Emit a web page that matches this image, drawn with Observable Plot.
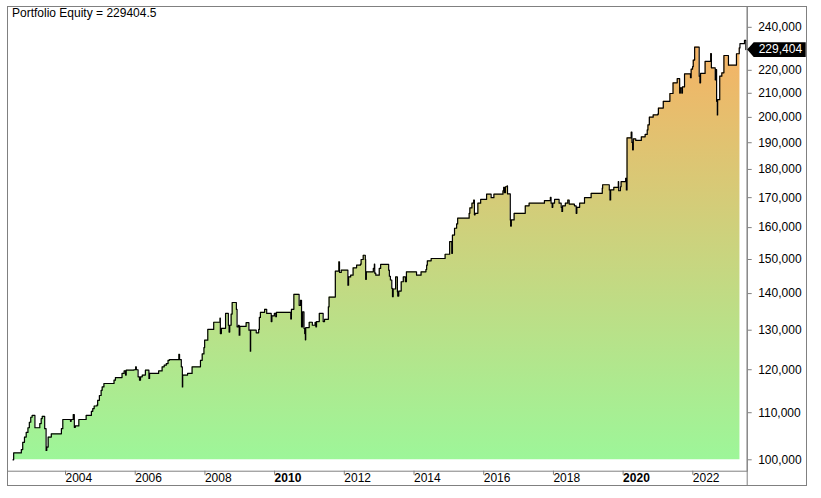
<!DOCTYPE html>
<html><head><meta charset="utf-8">
<script src="https://cdn.jsdelivr.net/npm/d3@7"></script>
<script src="https://cdn.jsdelivr.net/npm/@observablehq/plot@0.6"></script>
<style>
body{margin:0;background:#fff;font-family:"Liberation Sans",Arial,sans-serif;}
#wrap{position:relative;width:821px;height:498px;}
#chart{position:absolute;left:0;top:0;}
#border{position:absolute;left:7px;top:6px;width:800px;height:480px;border:1px solid #808080;box-sizing:border-box;pointer-events:none;}
#title{position:absolute;left:12px;top:6px;font-size:12px;line-height:14px;color:#000;white-space:nowrap;}
</style></head><body>
<div id="wrap"><div id="chart"></div><div id="border"></div><div id="title">Portfolio Equity = 229404.5</div></div>
<script>
const years = [
2002.55,2002.57,2002.79,2002.83,2002.88,2002.93,2002.98,2003.02,2003.06,2003.10,
2003.18,2003.32,2003.36,2003.39,2003.46,2003.50,2003.52,2003.56,2003.65,2003.94,
2003.98,2004.20,2004.22,2004.28,2004.31,2004.34,2004.44,2004.65,2004.80,2004.84,
2004.88,2004.96,2004.98,2005.03,2005.08,2005.11,2005.16,2005.45,2005.49,2005.68,
2005.74,2005.78,2005.80,2006.02,2006.07,2006.09,2006.14,2006.18,2006.21,2006.26,
2006.35,2006.45,2006.47,2006.73,2006.83,2006.89,2006.95,2007.00,2007.04,2007.31,
2007.33,2007.38,2007.41,2007.42,2007.56,2007.69,2007.93,2007.98,2008.03,2008.05,
2008.14,2008.31,2008.49,2008.50,2008.53,2008.65,2008.73,2008.75,2008.77,2008.81,
2008.84,2008.96,2008.98,2009.02,2009.04,2009.06,2009.24,2009.32,2009.36,2009.37,
2009.53,2009.60,2009.62,2009.65,2009.77,2009.83,2009.96,2009.98,2010.05,2010.09,
2010.11,2010.52,2010.54,2010.61,2010.76,2010.80,2010.83,2010.86,2010.90,2010.92,
2010.94,2010.95,2011.05,2011.14,2011.22,2011.24,2011.26,2011.34,2011.45,2011.49,
2011.60,2011.62,2011.80,2011.90,2011.92,2011.97,2012.16,2012.18,2012.24,2012.31,
2012.41,2012.52,2012.54,2012.60,2012.66,2012.67,2012.69,2012.89,2012.92,2012.93,
2012.96,2013.06,2013.10,2013.33,2013.35,2013.38,2013.42,2013.44,2013.46,2013.53,
2013.58,2013.59,2013.62,2013.69,2013.75,2013.81,2013.84,2014.13,2014.26,2014.40,
2014.42,2014.44,2014.55,2014.95,2015.08,2015.14,2015.16,2015.22,2015.28,2015.31,
2015.64,2015.66,2015.72,2015.77,2015.79,2015.81,2015.89,2015.97,2016.14,2016.27,
2016.35,2016.61,2016.63,2016.65,2016.68,2016.73,2016.74,2016.82,2016.83,2016.85,
2016.93,2017.25,2017.36,2017.80,2017.97,2017.99,2018.02,2018.04,2018.09,2018.22,
2018.28,2018.30,2018.32,2018.40,2018.47,2018.51,2018.66,2018.71,2018.73,2018.81,
2018.95,2019.14,2019.46,2019.47,2019.66,2019.68,2019.70,2019.79,2019.92,2019.93,
2019.98,2020.00,2020.13,2020.15,2020.17,2020.29,2020.31,2020.33,2020.35,2020.42,
2020.58,2020.69,2020.75,2020.77,2020.81,2020.92,2021.05,2021.07,2021.21,2021.40,
2021.49,2021.61,2021.68,2021.70,2021.74,2021.76,2021.82,2021.99,2022.01,2022.05,
2022.07,2022.11,2022.24,2022.26,2022.28,2022.41,2022.57,2022.59,2022.70,2022.72,
2022.74,2022.76,2022.77,2022.83,2022.89,2022.95,2023.08,2023.31,2023.39,2023.41,
2023.54,2023.58
];
const equity = [
100000,101400,102100,103600,104700,105700,106700,107900,109000,109400,
106700,107600,108700,109200,106500,101900,102600,104700,105400,106500,
108500,108100,108500,109600,106800,107100,108500,109400,110300,110900,
111500,111700,112800,113900,115100,115900,116700,117500,118100,119100,
119700,118700,119900,120000,120700,120000,118300,117500,118300,118700,
119900,117900,119100,119700,120700,121100,121500,122300,122500,123800,
122500,120700,115900,118700,119100,120700,122300,123900,125500,127400,
130200,132100,133200,129100,130500,134500,131300,129500,131300,134300,
137500,135600,130900,131300,128700,131000,132000,130000,124600,130000,
129300,130200,133400,134800,135600,134500,132300,133800,134500,133600,
134800,133000,135600,139800,136700,138100,130900,134900,130500,129100,
127500,130700,132100,131300,132100,130900,132300,134500,132300,132900,
136300,139000,146500,149300,146100,146800,142400,144800,145300,147500,
148300,148600,150000,151300,150000,144100,146300,147300,148600,145900,
145300,147300,148500,146800,145000,143900,141500,139100,141300,144800,
140500,139300,140700,143400,144800,143400,146300,145300,146300,147000,
148300,149600,150300,151600,155500,151900,157600,159800,161200,163100,
164700,166500,168100,169200,164200,164700,168100,169400,171200,170000,
171200,172400,173600,171700,173800,174100,171300,162500,160500,162500,
164700,167200,168100,169000,170100,168100,166700,168100,169400,168100,
166700,165300,167200,168100,169200,167800,167200,164700,166700,168100,
170000,171500,173300,174500,172700,169200,172700,173600,175600,172400,
173800,175600,176800,172700,191900,194100,190100,187300,191500,190900,
192300,193200,195000,197000,200100,201000,201300,203800,206600,209900,
214500,216300,210100,212300,210100,212700,218400,216700,220500,221600,
224600,230600,217400,214500,218600,224000,227600,221100,215800,220300,
206600,201000,207300,217400,218900,226700,222300,227500,230200,232200,
233700,229404.5
];
const finalEquity = 229404.5;
const baseValue = 100000;
const yTicks = [100000,110000,120000,130000,140000,150000,160000,170000,180000,190000,200000,210000,220000,230000,240000];
const xTicksNormal = [2004,2006,2008,2012,2014,2016,2018,2022];
const xTicksBold = [2010,2020];
const xDomain = [2002.393, 2023.618];
const yDomain = [97718, 250330];
const gradTop = "#F6B264";
const gradBottom = "#9DF699";

const data = years.map((t, i) => ({t, v: equity[i]}));
const areaData = data.filter(d => d.t <= 2023.42);

const gradient = () => {
  const ns = "http://www.w3.org/2000/svg";
  const defs = document.createElementNS(ns, "defs");
  const lg = document.createElementNS(ns, "linearGradient");
  lg.setAttribute("id", "eqGrad");
  lg.setAttribute("x1", "0"); lg.setAttribute("y1", "0");
  lg.setAttribute("x2", "0"); lg.setAttribute("y2", "1");
  [[0, gradTop], [1, gradBottom]].forEach(([o, c]) => {
    const s = document.createElementNS(ns, "stop");
    s.setAttribute("offset", o);
    s.setAttribute("stop-color", c);
    lg.appendChild(s);
  });
  defs.appendChild(lg);
  return defs;
};

const tagSymbol = {
  draw(ctx) {
    ctx.moveTo(0, 0);
    ctx.lineTo(6.5, -7.3);
    ctx.lineTo(58.5, -7.3);
    ctx.lineTo(58.5, 7.3);
    ctx.lineTo(6.5, 7.3);
    ctx.closePath();
  }
};

const fmt = d3.format(",");
const axisCommon = {tickSize: 4, stroke: "#808080", fill: "black", fontSize: 12, label: null};

const chart = Plot.plot({
  width: 821,
  height: 498,
  marginLeft: 7,
  marginRight: 74.3,
  marginTop: 6,
  marginBottom: 27.3,
  style: {fontFamily: "'Liberation Sans', Arial, sans-serif", fontSize: "12px", background: "transparent", color: "black"},
  x: {type: "linear", domain: xDomain},
  y: {type: "log", domain: yDomain},
  marks: [
    gradient,
    Plot.areaY(areaData, {x: "t", y1: () => baseValue, y2: "v", curve: "step-after", fill: "url(#eqGrad)"}),
    Plot.line(data, {x: "t", y: "v", curve: "step-after", stroke: "black", strokeWidth: 1.2}),
    Plot.frame({stroke: "#808080"}),
    Plot.ruleX([xDomain[1]], {stroke: "#808080", insetBottom: -15}),
    Plot.axisY({...axisCommon, anchor: "right", ticks: yTicks, tickFormat: fmt, tickPadding: 7}),
    Plot.axisX({...axisCommon, anchor: "bottom", ticks: xTicksNormal, tickFormat: d => String(d), tickPadding: -2, textAnchor: "start", dx: 2}),
    Plot.axisX({...axisCommon, anchor: "bottom", ticks: xTicksBold, tickFormat: d => String(d), tickPadding: -2, textAnchor: "start", dx: 2, fontWeight: "bold"}),
    Plot.dot([finalEquity], {x: () => xDomain[1], y: d => d, symbol: tagSymbol, fill: "black", stroke: "none"}),
    Plot.text([finalEquity], {x: () => xDomain[1], y: d => d, text: d => fmt(Math.floor(d)), dx: 11.5, textAnchor: "start", fill: "white", fontSize: 12})
  ]
});
document.getElementById("chart").appendChild(chart);
</script>
</body></html>
